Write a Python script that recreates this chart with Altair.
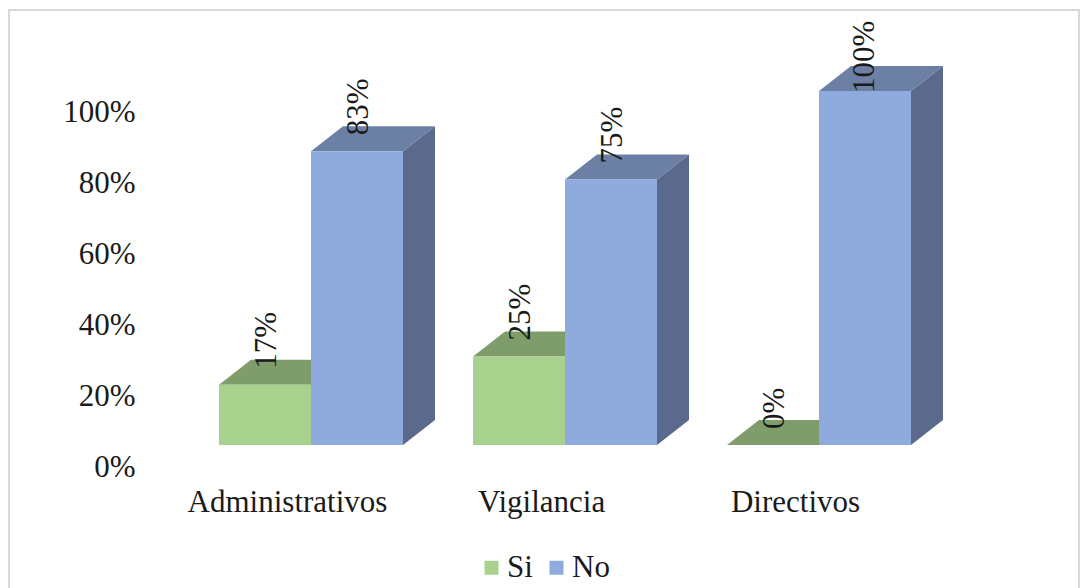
import altair as alt
import pandas as pd

# Survey responses per staff group, in percent
groups = ["Administrativos", "Vigilancia", "Directivos"]
si_values = [17, 25, 0]
no_values = [83, 75, 100]
y_ticks = [0, 0.2, 0.4, 0.6, 0.8, 1.0]

FONT = "Liberation Serif"
FONT_SIZE = 31
TEXT = "#1a1a1a"

# Extruded-bar geometry, in axis units
BAR_W = 92 / 254
DEPTH_X = 32 / 254
DEPTH_Y = 25 / 354

SERIES = {
    "Si": {"values": si_values, "start": -BAR_W, "front": "#A9D18E", "top": "#7F9C6B", "side": "#6F8A5C"},
    "No": {"values": no_values, "start": 0.0, "front": "#8FAADC", "top": "#6C80A6", "side": "#5B6A8C"},
}

fronts, tops, sides = [], [], []
for name, s in SERIES.items():
    for i, (group, pct) in enumerate(zip(groups, s["values"])):
        v = pct / 100
        x0 = i + s["start"]
        x1 = x0 + BAR_W
        key = f"{group}-{name}"
        fronts.append(dict(serie=name, x0=x0, x1=x1, xc=(x0 + x1) / 2, v=v, zero=0.0, label=f"{pct}%"))
        tops += [
            dict(id=key, serie=name, y=v, a=x0, b=x1),
            dict(id=key, serie=name, y=v + DEPTH_Y, a=x0 + DEPTH_X, b=x1 + DEPTH_X),
        ]
        sides += [
            dict(id=key, serie=name, x=x1, lo=0.0, hi=v),
            dict(id=key, serie=name, x=x1 + DEPTH_X, lo=DEPTH_Y, hi=v + DEPTH_Y),
        ]

fronts = pd.DataFrame(fronts)
tops = pd.DataFrame(tops)
sides = pd.DataFrame(sides)

x_scale = alt.Scale(domain=[-1.189, 3.0236], nice=False, zero=False)
y_scale = alt.Scale(domain=[-0.4096, 1.2288], nice=False, zero=False)

names = ",".join(f"'{g}'" for g in groups)
x_axis = alt.Axis(
    values=[0, 1, 2], labelExpr=f"[{names}][datum.value]", title=None, grid=False, domain=False, ticks=False,
    labelFont=FONT, labelFontSize=FONT_SIZE, labelColor=TEXT, labelOffset=-24, offset=-103, labelPadding=0,
    labelFlush=False, labelOverlap=False, labelBound=False, labelLimit=400,
)
y_axis = alt.Axis(
    values=y_ticks, format=".0%", title=None, grid=False, domain=False, ticks=False,
    labelFont=FONT, labelFontSize=FONT_SIZE, labelColor=TEXT, labelOffset=22, offset=-126, labelPadding=0,
    labelFlush=False, labelOverlap=False, labelBound=False,
)


def top_face(name):
    return (
        alt.Chart(tops[tops.serie == name])
        .mark_area(orient="horizontal", color=SERIES[name]["top"])
        .encode(
            y=alt.Y("y:Q", scale=y_scale, axis=y_axis),
            x=alt.X("a:Q", scale=x_scale, axis=x_axis, stack=None),
            x2="b:Q",
            detail="id:N",
        )
    )


def side_face(name):
    return (
        alt.Chart(sides[sides.serie == name])
        .mark_area(orient="vertical", color=SERIES[name]["side"])
        .encode(
            x=alt.X("x:Q", scale=x_scale, axis=x_axis),
            y=alt.Y("lo:Q", scale=y_scale, axis=y_axis, stack=None),
            y2="hi:Q",
            detail="id:N",
        )
    )


def front_face(name):
    return (
        alt.Chart(fronts[fronts.serie == name])
        .mark_rect()
        .encode(
            x=alt.X("x0:Q", scale=x_scale, axis=x_axis),
            x2="x1:Q",
            y=alt.Y("zero:Q", scale=y_scale, axis=y_axis),
            y2="v:Q",
            color=alt.Color(
                "serie:N",
                sort=["Si", "No"],
                scale=alt.Scale(domain=["Si", "No"], range=[SERIES["Si"]["front"], SERIES["No"]["front"]]),
                legend=alt.Legend(
                    title=None, orient="none", legendX=467, legendY=542, direction="horizontal",
                    symbolType="square", symbolSize=196, symbolStrokeWidth=0,
                    labelFont=FONT, labelFontSize=FONT_SIZE, labelColor=TEXT, labelOffset=0,
                    columnPadding=8,
                ),
            ),
        )
    )


def value_labels(subset, lift, shift):
    return (
        alt.Chart(subset)
        .mark_text(angle=270, align="left", baseline="middle", dx=lift, dy=shift, font=FONT, fontSize=FONT_SIZE, color=TEXT)
        .encode(
            x=alt.X("xc:Q", scale=x_scale, axis=x_axis),
            y=alt.Y("v:Q", scale=y_scale, axis=y_axis),
            text="label:N",
        )
    )


chart = (
    alt.layer(
        top_face("Si"), front_face("Si"),
        side_face("No"), top_face("No"), front_face("No"),
        value_labels(fronts[fronts.v < 1], 16, 2),
        # The full-height label sits lower so it stays inside the frame
        value_labels(fronts[fronts.v == 1], -2, 0),
    )
    .properties(
        width=1070,
        height=580,
        padding={"left": 9, "top": 10, "right": 5, "bottom": -2},
        autosize=alt.AutoSizeParams(type="none"),
        background="white",
    )
    .configure_view(stroke="#D9D9D9", strokeWidth=2)
)

chart.save("out.html", embed_options={"renderer": "svg", "actions": False})
